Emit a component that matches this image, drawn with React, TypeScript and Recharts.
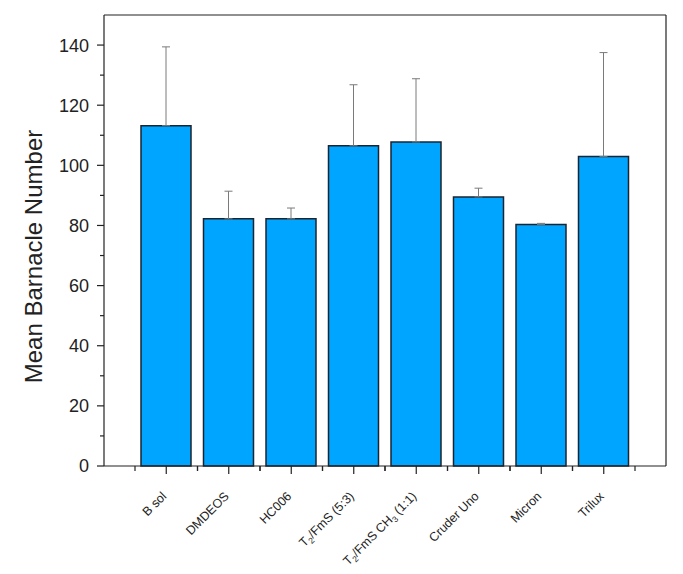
import { BarChart, Bar, XAxis, YAxis, ErrorBar } from "recharts";

// "_n" marks a subscript digit in the label
const CATEGORIES = [
  "B sol",
  "DMDEOS",
  "HC006",
  "T_2/FmS (5:3)",
  "T_2/FmS CH_3 (1:1)",
  "Cruder Uno",
  "Micron",
  "Trilux",
];
const MEANS = [113.2, 82.2, 82.2, 106.5, 107.8, 89.5, 80.3, 102.9];
const ERR_UP = [26.2, 9.2, 3.6, 20.3, 21.0, 2.9, 0.4, 34.6];
const Y_TICKS = [0, 10, 20, 30, 40, 50, 60, 70, 80, 90, 100, 110, 120, 130, 140];

const FONT = '"Liberation Sans", Arial, sans-serif';
const AXIS_COLOR = "#222";
const Y_TICK_SIZE = 7;
const Y_TICK_MARGIN = 8;
const X_TICK_SIZE = 8;
const X_TICK_MARGIN = 4;

const data = CATEGORIES.map((name, i) => ({
  name,
  mean: MEANS[i],
  err: [0, ERR_UP[i]],
}));

function YTick(props: any) {
  const { x, y, payload } = props;
  const ax = x + Y_TICK_MARGIN + Y_TICK_SIZE;
  const major = payload.value % 20 === 0;
  return (
    <g>
      <line
        x1={ax}
        x2={ax - (major ? Y_TICK_SIZE : 4)}
        y1={y}
        y2={y}
        stroke={AXIS_COLOR}
        strokeWidth={1.2}
      />
      {major && (
        <text
          x={x}
          y={y}
          dy="0.36em"
          textAnchor="end"
          fill="#222"
          fontSize={18}
          fontFamily={FONT}
        >
          {payload.value}
        </text>
      )}
    </g>
  );
}

function XTick(props: any) {
  const { x, y, payload } = props;
  const ay = y - X_TICK_MARGIN - X_TICK_SIZE;
  const half = payload.offset || 31;
  const parts = String(payload.value).split(/_(\d)/);
  const tx = x + 1;
  const ty = ay + 31;
  return (
    <g>
      <line x1={x} x2={x} y1={ay} y2={ay + X_TICK_SIZE} stroke={AXIS_COLOR} strokeWidth={1.2} />
      <line x1={x - half} x2={x - half} y1={ay} y2={ay + 5} stroke={AXIS_COLOR} strokeWidth={1.2} />
      <line x1={x + half} x2={x + half} y1={ay} y2={ay + 5} stroke={AXIS_COLOR} strokeWidth={1.2} />
      <text
        x={tx}
        y={ty}
        textAnchor="end"
        transform={`rotate(-45, ${tx}, ${ty})`}
        fill="#222"
        fontSize={12.5}
        fontFamily={FONT}
      >
        {parts.map((p, i) =>
          i % 2 === 1 ? (
            <tspan key={i} dy={3} fontSize={8.5}>
              {p}
            </tspan>
          ) : (
            <tspan key={i} dy={i === 0 ? 0 : -3}>
              {p}
            </tspan>
          )
        )}
      </text>
    </g>
  );
}

export default function App() {
  return (
    <div style={{ position: "absolute", left: 0, top: 0, background: "#fff" }}>
      <BarChart
        width={683}
        height={574}
        data={data}
        margin={{ top: 14, right: 16, bottom: 0, left: 0 }}
        barSize={50}
      >
        <XAxis
          dataKey="name"
          interval={0}
          padding={{ left: 31, right: 31 }}
          height={108}
          tickSize={X_TICK_SIZE}
          tickMargin={X_TICK_MARGIN}
          tickLine={false}
          tick={<XTick />}
          axisLine={{ stroke: AXIS_COLOR, strokeWidth: 1.2 }}
        />
        <XAxis
          xAxisId="top"
          dataKey="name"
          orientation="top"
          height={1}
          tick={false}
          tickLine={false}
          axisLine={{ stroke: AXIS_COLOR, strokeWidth: 1.2 }}
        />
        <YAxis
          domain={[0, 150]}
          ticks={Y_TICKS}
          interval={0}
          width={104}
          tickSize={Y_TICK_SIZE}
          tickMargin={Y_TICK_MARGIN}
          tickLine={false}
          tick={<YTick />}
          axisLine={{ stroke: AXIS_COLOR, strokeWidth: 1.2 }}
          label={{
            value: "Mean Barnacle Number",
            angle: -90,
            position: "center",
            dx: -19,
            dy: 16,
            style: { fontSize: 24, fontFamily: FONT, fill: "#222" },
          }}
        />
        <YAxis
          yAxisId="right"
          orientation="right"
          domain={[0, 1]}
          width={1}
          tick={false}
          tickLine={false}
          axisLine={{ stroke: AXIS_COLOR, strokeWidth: 1.2 }}
        />
        <Bar
          dataKey="mean"
          fill="#00A5FF"
          stroke="#1c2430"
          strokeWidth={1.5}
          isAnimationActive={false}
        >
          <ErrorBar
            dataKey="err"
            direction="y"
            width={4}
            stroke="#7a7a7a"
            strokeWidth={1}
            isAnimationActive={false}
          />
        </Bar>
      </BarChart>
    </div>
  );
}
